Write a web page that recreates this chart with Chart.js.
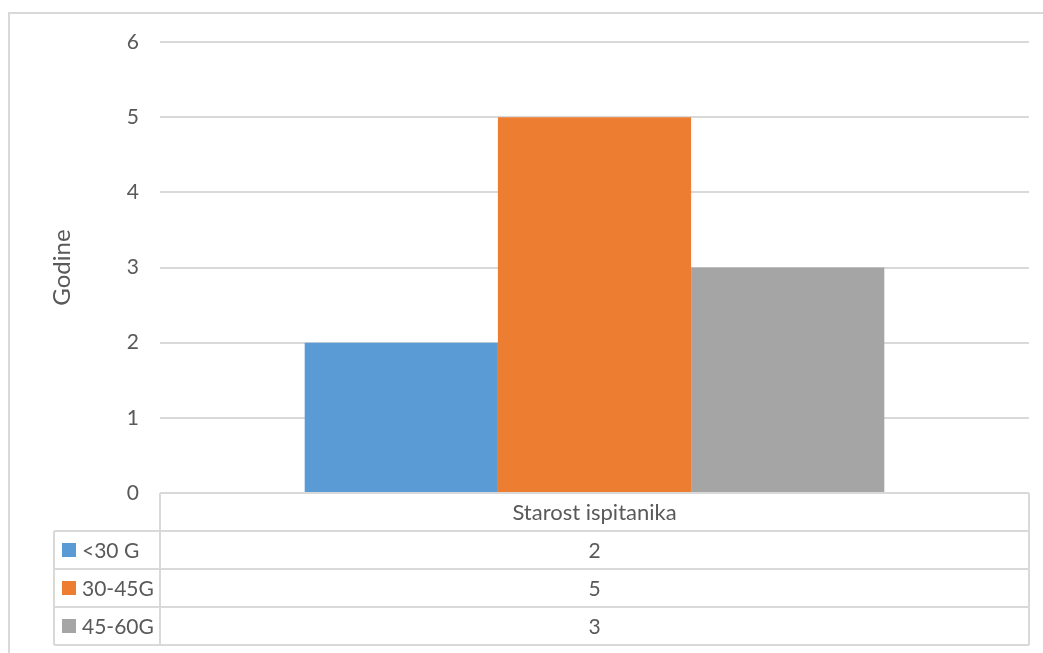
<!DOCTYPE html>
<html><head><meta charset="utf-8">
<script src="https://cdn.jsdelivr.net/npm/chart.js@4/dist/chart.umd.min.js"></script>
<style>html,body{margin:0;padding:0;background:#fff}#wrap{width:1043px;height:653px}</style>
</head><body><div id="wrap"><canvas id="c" width="1043" height="653"></canvas></div>
<script>
const categories = ["Starost ispitanika"];
const seriesNames = ["<30 G", "30-45G", "45-60G"];
const seriesValues = [[2], [5], [3]];
const seriesColors = ["#5B9BD5", "#ED7D31", "#A5A5A5"];
const yTicks = [0, 1, 2, 3, 4, 5, 6];
const yTitle = "Godine";

const FONT = "Lato, 'Noto Sans', sans-serif";
const TXT = "#595959";
const LINE = "#d9d9d9";
const FS = 21;

const tablePlugin = {
  id: 'dataTable',
  afterDraw(chart) {
    const ctx = chart.ctx, ca = chart.chartArea, xs = chart.scales.x;
    const rowH = 38, leftX = 54;
    const rows = seriesNames.length;
    const bottom = ca.bottom + rowH * (rows + 1);
    ctx.save();
    ctx.strokeStyle = LINE; ctx.lineWidth = 2;
    for (let i = 0; i <= rows + 1; i++) {
      const y = ca.bottom + rowH * i;
      ctx.beginPath();
      ctx.moveTo(i === 0 ? ca.left : leftX, y);
      ctx.lineTo(ca.right, y);
      ctx.stroke();
    }
    ctx.beginPath();
    ctx.moveTo(ca.left, ca.bottom); ctx.lineTo(ca.left, bottom);
    ctx.moveTo(ca.right, ca.bottom); ctx.lineTo(ca.right, bottom);
    ctx.moveTo(leftX, ca.bottom + rowH); ctx.lineTo(leftX, bottom);
    ctx.stroke();
    ctx.fillStyle = TXT;
    ctx.textBaseline = "middle";
    ctx.textAlign = "center";
    categories.forEach((c, ci) => {
      const cx = xs.getPixelForValue(ci);
      ctx.font = (FS + 1) + "px " + FONT;
      ctx.fillText(c, cx, ca.bottom + rowH / 2 + 1);
      ctx.font = FS + "px " + FONT;
      seriesValues.forEach((vals, si) => {
        ctx.fillText(String(vals[ci]), cx, ca.bottom + rowH * (si + 1) + rowH / 2 + 1);
      });
    });
    ctx.textAlign = "left";
    ctx.font = FS + "px " + FONT;
    seriesNames.forEach((n, si) => {
      const cy = ca.bottom + rowH * (si + 1) + rowH / 2;
      ctx.fillStyle = seriesColors[si];
      ctx.fillRect(62, cy - 7, 14, 14);
      ctx.fillStyle = TXT;
      ctx.fillText(n, 82, cy + 1);
    });
    ctx.strokeRect(9, 13, 1100, 700);
    ctx.restore();
  }
};

new Chart(document.getElementById('c'), {
  type: 'bar',
  data: {
    labels: categories,
    datasets: seriesNames.map((n, i) => ({
      label: n, data: seriesValues[i], backgroundColor: seriesColors[i],
      borderWidth: 0, categoryPercentage: 0.667, barPercentage: 1
    }))
  },
  options: {
    responsive: false, animation: false,
    layout: { padding: { left: 0, top: 42, right: 14, bottom: 0 } },
    plugins: { legend: { display: false }, tooltip: { enabled: false } },
    scales: {
      x: {
        grid: { display: false }, border: { display: false },
        ticks: { display: false },
        afterFit(s) { s.height = 160; }
      },
      y: {
        min: 0, max: 6,
        afterBuildTicks(s) { s.ticks = yTicks.map(v => ({ value: v })); },
        grid: { color: LINE, lineWidth: 2, drawTicks: false },
        border: { display: false },
        ticks: { color: TXT, font: { family: FONT, size: FS }, padding: 21 },
        title: { display: true, text: yTitle, color: TXT, font: { family: FONT, size: 24 }, padding: { top: 48, bottom: 0 } },
        afterFit(s) { s.width = 160; }
      }
    }
  },
  plugins: [tablePlugin]
});
</script></body></html>
